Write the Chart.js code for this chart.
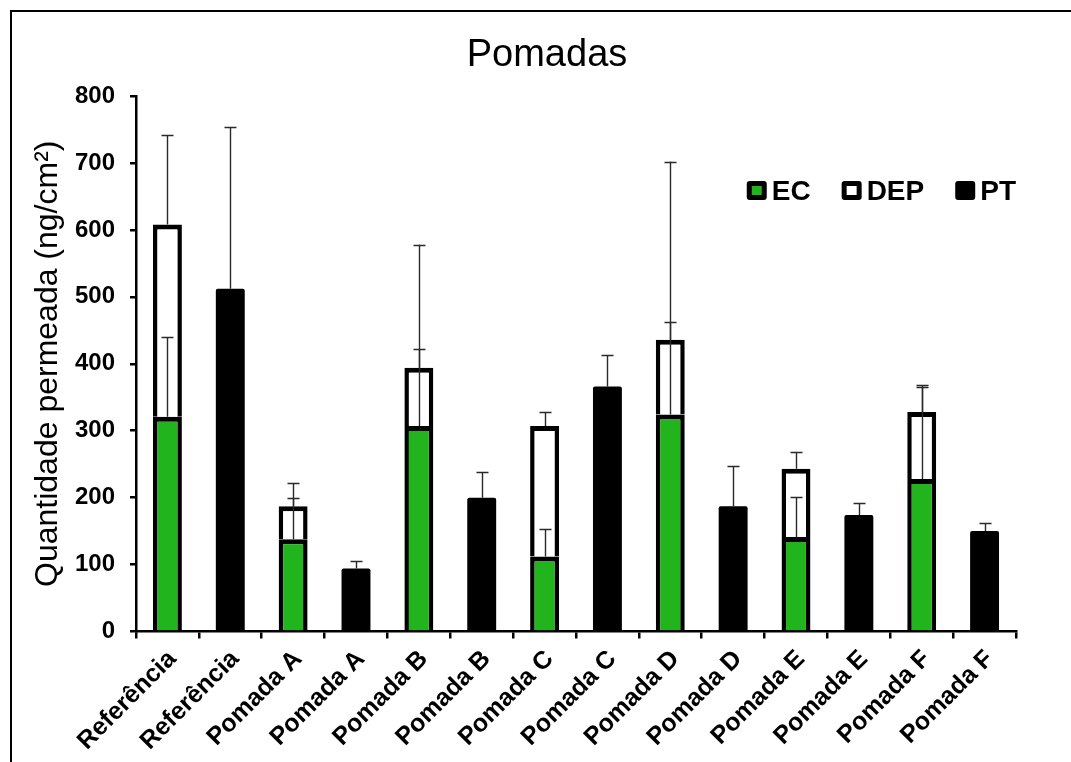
<!DOCTYPE html>
<html>
<head>
<meta charset="utf-8">
<script src="https://cdn.jsdelivr.net/npm/chart.js@4.4.1/dist/chart.umd.min.js"></script>
<style>
  html, body { margin: 0; padding: 0; background: #fff; overflow: hidden; width: 1071px; height: 762px; }
  #frame { position: absolute; left: 10px; top: 10px; width: 1074px; height: 762px; border: 2px solid #000; box-sizing: border-box; background: #fff; }
  #wrap { position: absolute; left: 0; top: 0; width: 1070px; height: 758px; }
</style>
</head>
<body>
<div id="frame"><div id="wrap"><canvas id="chart"></canvas></div></div>
<script>
// Categories: each formulation appears twice (EC + DEP stacked, then PT)
const categories = ['Referência', 'Referência', 'Pomada A', 'Pomada A', 'Pomada B', 'Pomada B',
  'Pomada C', 'Pomada C', 'Pomada D', 'Pomada D', 'Pomada E', 'Pomada E', 'Pomada F', 'Pomada F'];

// Amounts permeated (ng/cm²) and upper error (SD)
const ecValues  = [321, null, 138, null, 307, null, 112, null, 324, null, 141, null, 228, null];
const ecErrors  = [119, null, 61, null, 115, null, 41, null, 138, null, 60, null, 138, null];
const depValues = [287, null, 49, null, 87, null, 195, null, 112, null, 102, null, 100, null];
const depErrors = [134, null, 35, null, 184, null, 21, null, 266, null, 25, null, 40, null];
const ptValues  = [null, 512, null, 94, null, 200, null, 366, null, 187, null, 174, null, 150];
const ptErrors  = [null, 242, null, 11, null, 38, null, 47, null, 60, null, 18, null, 12];

const yTickValues = [0, 100, 200, 300, 400, 500, 600, 700, 800];

const FONT = '"Liberation Sans", Arial, Helvetica, sans-serif';
const GREEN = '#22b41c';

// Upper-only error bars, drawn from the top of each stacked segment
const errorBars = {
  id: 'errorBars',
  afterDatasetsDraw(chart) {
    const ctx = chart.ctx;
    const y = chart.scales.y;
    const dsets = chart.data.datasets;
    ctx.save();
    ctx.strokeStyle = '#2a2a2a';
    ctx.lineWidth = 1.4;
    dsets.forEach((ds, d) => {
      if (!ds.errors) return;
      const meta = chart.getDatasetMeta(d);
      meta.data.forEach((el, i) => {
        const err = ds.errors[i];
        if (err == null || ds.data[i] == null) return;
        let top = 0;
        for (let k = 0; k <= d; k++) {
          const v = dsets[k].data[i];
          if (v != null) top += v;
        }
        const y0 = y.getPixelForValue(top);
        const y1 = y.getPixelForValue(top + err);
        const x = Math.round(el.x) + 0.5;
        ctx.beginPath();
        ctx.moveTo(x, y0);
        ctx.lineTo(x, y1);
        ctx.moveTo(x - 6, Math.round(y1) + 0.5);
        ctx.lineTo(x + 6, Math.round(y1) + 0.5);
        ctx.stroke();
      });
    });
    ctx.restore();
  }
};

// Legend inside the plot area, right-aligned to it
const insideLegend = {
  id: 'insideLegend',
  afterDraw(chart) {
    const ctx = chart.ctx;
    const area = chart.chartArea;
    const dsets = chart.data.datasets;
    const box = 20, border = 5, gapText = 5, gapItem = 31;
    ctx.save();
    ctx.font = 'bold 28px ' + FONT;
    ctx.textBaseline = 'alphabetic';
    const widths = dsets.map(ds => ctx.measureText(ds.label).width);
    let total = 0;
    widths.forEach((w, i) => { total += box + gapText + w + (i < widths.length - 1 ? gapItem : 0); });
    let x = area.right - total;
    const top = area.top + 85;
    dsets.forEach((ds, i) => {
      ctx.fillStyle = '#000';
      ctx.beginPath();
      ctx.roundRect(x, top, box, box - 1, 3);
      ctx.fill();
      ctx.fillStyle = ds.legendFill;
      ctx.fillRect(x + border, top + border, box - 2 * border, box - 1 - 2 * border);
      ctx.fillStyle = '#000';
      ctx.fillText(ds.label, x + box + gapText, top + 19);
      x += box + gapText + widths[i] + gapItem;
    });
    ctx.restore();
  }
};

new Chart(document.getElementById('chart'), {
  type: 'bar',
  data: {
    labels: categories,
    datasets: [
      { label: 'EC', data: ecValues, errors: ecErrors, backgroundColor: GREEN, legendFill: GREEN,
        borderColor: '#000', borderWidth: { top: 5, left: 4.5, right: 4.5, bottom: 0 } },
      { label: 'DEP', data: depValues, errors: depErrors, backgroundColor: '#fff', legendFill: '#fff',
        borderColor: '#000', borderWidth: { top: 5, left: 4.5, right: 4.5, bottom: 0 } },
      { label: 'PT', data: ptValues, errors: ptErrors, backgroundColor: '#000', legendFill: '#000',
        borderColor: '#000', borderWidth: 0, borderRadius: 2 }
    ]
  },
  options: {
    responsive: true,
    maintainAspectRatio: false,
    animation: false,
    events: [],
    layout: { padding: 0 },
    datasets: { bar: { categoryPercentage: 1, barPercentage: 0.46 } },
    plugins: {
      legend: { display: false },
      tooltip: { enabled: false },
      title: {
        display: true, text: 'Pomadas', color: '#000',
        font: { family: FONT, size: 38, weight: 'normal', lineHeight: 1.2 },
        padding: { top: 21, bottom: 17.4 }
      }
    },
    scales: {
      x: {
        stacked: true,
        border: { color: '#000', width: 2.5 },
        grid: { drawOnChartArea: false, drawTicks: true, tickLength: 7, color: '#000', lineWidth: 2.5, offset: true },
        ticks: { color: '#000', font: { family: FONT, size: 25, weight: 'bold' },
          minRotation: 45, maxRotation: 45, autoSkip: false, padding: 6, labelOffset: 5 },
        afterFit(scale) { scale.height = 138.5; }
      },
      y: {
        stacked: true, min: 0, max: 800,
        border: { color: '#000', width: 2.5 },
        grid: { drawOnChartArea: false, drawTicks: true, tickLength: 6, color: '#000', lineWidth: 2.5 },
        afterBuildTicks(scale) { scale.ticks = yTickValues.map(v => ({ value: v })); },
        ticks: { color: '#000', padding: 15, font: { family: FONT, size: 24, weight: 'bold' } },
        title: { display: true, text: 'Quantidade permeada (ng/cm²)', color: '#000',
          font: { family: FONT, size: 32, weight: 'normal', lineHeight: 1.2 }, padding: { top: 17, bottom: 0 } },
        afterFit(scale) { scale.width = 124; }
      },
      // empty right-hand margin, keeps the title centred on the whole frame
      yRight: {
        position: 'right', display: true,
        grid: { display: false }, border: { display: false }, ticks: { display: false },
        afterFit(scale) { scale.width = 66; }
      }
    }
  },
  plugins: [errorBars, insideLegend]
});
</script>
</body>
</html>
